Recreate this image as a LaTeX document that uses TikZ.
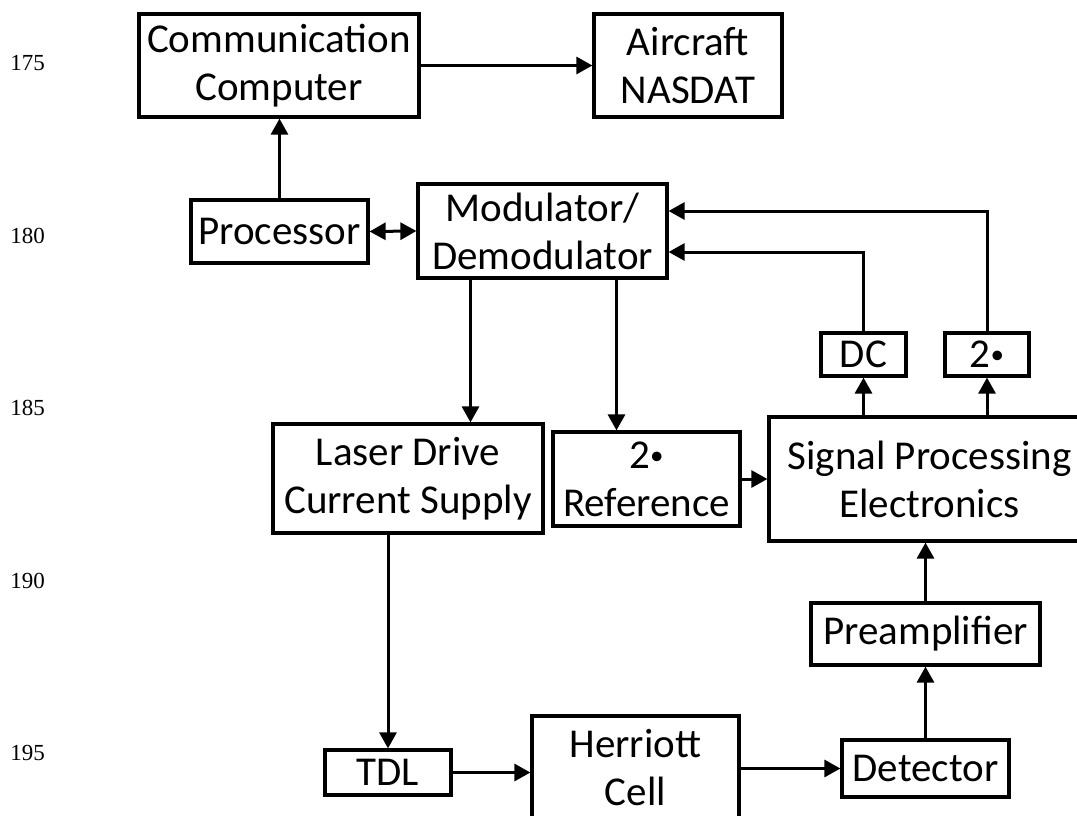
\documentclass[tikz,border=0pt]{standalone}
\usepackage{fontspec}
\setmainfont{Carlito}
\newfontfamily\linenofont{Liberation Serif}
\usetikzlibrary{arrows.meta,calc}
\newcommand{\smalldot}{\raisebox{4pt}{\fontsize{27}{27}\selectfont •}}

\begin{document}
\begin{tikzpicture}[x=1pt,y=-1pt,
  blk/.style={draw,line width=3.2pt,inner sep=0pt,align=center,font=\fontsize{41}{48}\selectfont},
  arr/.style={line width=3pt,-{Triangle[length=16pt,width=17pt]}}]
  \useasboundingbox (0,0) rectangle (1077,816); % 図全体の範囲
  \foreach \n [count=\i from 0] in {175,180,185,190,195}
    \node[font=\linenofont\fontsize{23}{26}\selectfont] (ln\n) at (27.5,63+172.5*\i) {\n}; % 左端の行番号
  \node[blk,minimum width=280,minimum height=103] (comm) at (279,65.5) {Communication\\Computer}; % 通信用計算機
  \node[blk,minimum width=188,minimum height=103] (aircraft) at (688,65.5) {Aircraft\\NASDAT}; % 機体側
  \node[blk,minimum width=177,minimum height=63] (proc) at (279.5,231.5) {Processor}; % 処理装置
  \node[blk,minimum width=249,minimum height=94] (modem) at (542.5,231) {Modulator/\\Demodulator}; % 変調・復調
  \node[blk,minimum width=270,minimum height=109] (laser) at (408,478.5) {Laser Drive\\Current Supply}; % レーザ電源
  \node[blk,minimum width=187,minimum height=94] (ref) at (646.5,479) {2\smalldot\\Reference}; % 参照信号
  \node[blk,minimum width=321,minimum height=124] (signal) at (929.5,479) {Signal Processing\\Electronics}; % 信号処理（右端は枠外）
  \node[blk,minimum width=85,minimum height=43] (dc) at (863.5,354.5) {DC}; % 直流成分
  \node[blk,minimum width=84,minimum height=43] (two) at (987,354.5) {2\smalldot}; % 2倍波成分
  \node[blk,minimum width=229,minimum height=62] (preamp) at (925.5,634) {Preamplifier}; % 前置増幅器
  \node[blk,minimum width=167,minimum height=57] (det) at (925.5,768.5) {Detector}; % 検出器
  \node[blk,minimum width=126,minimum height=45] (tdl) at (388,772.5) {TDL}; % 半導体レーザ
  \node[blk,minimum width=207,minimum height=104] (cell) at (635.5,768) {Herriott\\Cell}; % 多重反射セル（下端は枠外）
  \path (modem.south) ++(-72,0) coordinate (tapL) ++(146,0) coordinate (tapR); % 変調器下側の出口
  \draw[arr] (proc.north) -- (proc.north |- comm.south); % 処理装置から計算機へ
  \draw[arr] (comm.east) -- (aircraft.west); % 計算機から機体へ
  \draw[line width=3pt,{Triangle[length=16pt,width=17pt]}-{Triangle[length=16pt,width=17pt]}] (proc.east) -- (modem.west); % 双方向
  \draw[arr] (tapL) -- (tapL |- laser.north); % 変調器からレーザ電源へ
  \draw[arr] (tapR) -- (tapR |- ref.north); % 変調器から参照信号へ
  \draw[arr] (ref.east) -- (ref.east -| signal.west); % 参照信号から信号処理へ
  \draw[arr] (dc.south |- signal.north) -- (dc.south); % 信号処理からDCへ
  \draw[arr] (two.south |- signal.north) -- (two.south); % 信号処理から2倍波へ
  \draw[arr] (dc.north) |- ($(modem.east)+(0,21)$); % DCから変調器へ戻る
  \draw[arr] (two.north) |- ($(modem.east)+(0,-20)$); % 2倍波から変調器へ戻る
  \draw[arr] (tdl.north |- laser.south) -- (tdl.north); % レーザ電源からTDLへ
  \draw[arr] (tdl.east) -- (tdl.east -| cell.west); % TDLからセルへ
  \draw[arr] (det.west -| cell.east) -- (det.west); % セルから検出器へ
  \draw[arr] (det.north) -- (preamp.south); % 検出器から前置増幅器へ
  \draw[arr] (preamp.north) -- (preamp.north |- signal.south); % 前置増幅器から信号処理へ
\end{tikzpicture}
\end{document}
